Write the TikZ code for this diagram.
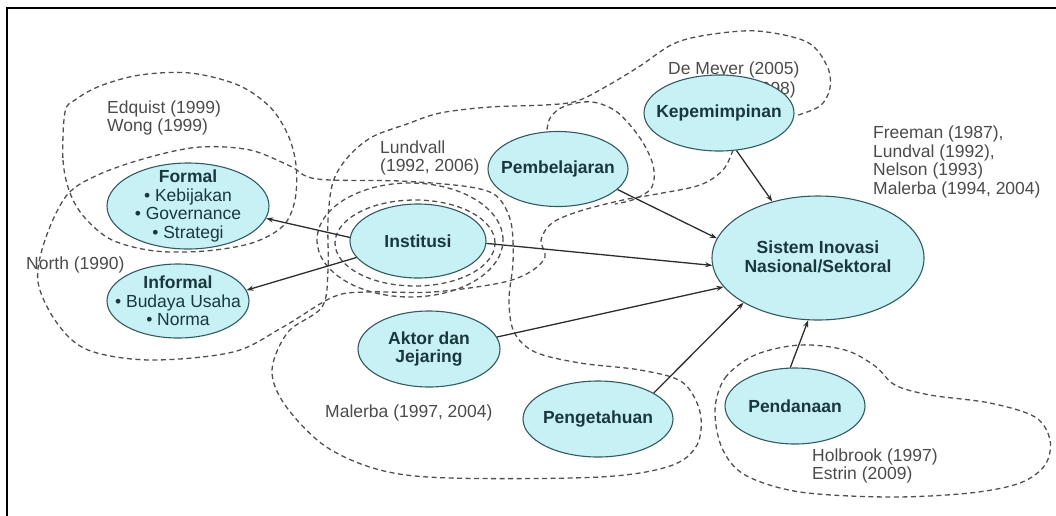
\documentclass[tikz,border=0pt]{standalone}
\usepackage{fontspec}
\setmainfont{Liberation Sans}
\usetikzlibrary{shapes.geometric,arrows.meta}
\definecolor{nodefill}{RGB}{200,241,246}
\definecolor{nodeedge}{RGB}{50,90,95}
\definecolor{nodetext}{RGB}{25,55,60}
\definecolor{dashcol}{RGB}{80,80,80}
\definecolor{labcol}{RGB}{75,75,75}
\definecolor{arrcol}{RGB}{45,45,45}
\begin{document}
\begin{tikzpicture}[x=1pt,y=-1pt,
  concept/.style={ellipse, draw=nodeedge, fill=nodefill, line width=1.1pt, inner sep=0pt},
  ctext/.style={text=nodetext, font=\fontsize{17.5}{18.5}\selectfont\bfseries, align=center, inner sep=0pt},
  refnote/.style={text=labcol, font=\fontsize{17.5}{18.5}\selectfont, align=left, inner sep=0pt},
  zone/.style={draw=dashcol, line width=1.3pt, dash pattern=on 5pt off 3.5pt},
  link/.style={draw=arrcol, line width=1.3pt, -{Stealth[length=7pt,width=5pt]}}]

\useasboundingbox (0,0) rectangle (1056,515);
\draw[line width=2.2pt] (7,530) -- (7,8) -- (1070,8);

% dashed zones
\draw[zone] plot[smooth cycle, tension=0.55] coordinates {(65,112) (63,160) (70,193) (85,218) (112,240) (155,251) (205,251) (252,243) (283,226) (295,200) (296,165) (288,135) (270,107) (238,85) (190,73) (140,75) (100,86) (75,100)};

\draw[zone] plot[smooth, tension=0.55] coordinates {(733,150) (723,170) (700,185) (657,194) (623,200) (580,211) (552,223) (541,240) (545,257) (530,272) (500,283) (433,292) (367,292) (333,297) (283,327) (233,352) (150,360) (88,350) (57,323) (38,282) (45,240) (67,195) (100,174) (150,157) (200,147) (250,150) (290,166) (317,179) (400,181) (463,186) (492,193) (505,207) (512,228) (513,263) (509,300) (514,332) (535,352) (580,363) (640,370) (682,382) (700,412) (697,445) (670,466) (600,477) (450,478) (380,470) (325,446) (285,405) (272,370) (288,332) (322,307) (328,270) (328,220) (333,182) (348,157) (372,137) (407,124) (440,113) (490,107) (545,105) (577,101) (607,86) (640,66) (673,44) (707,35) (757,31) (807,42) (827,66) (830,88) (820,106) (795,116)};

\draw[zone] plot[smooth, tension=0.55] coordinates {(546,138) (550,118) (565,106) (592,102) (617,112) (640,138) (653,165) (652,187) (635,199) (615,204)};

\draw[zone] (410,240) ellipse [x radius=93pt, y radius=57pt];
\draw[zone] (415,243) ellipse [x radius=80pt, y radius=43pt];

\draw[zone] plot[smooth cycle, tension=0.55] coordinates {(715,410) (725,378) (755,355) (800,345) (845,350) (875,366) (895,385) (930,395) (990,403) (1035,417) (1050,440) (1045,465) (1020,483) (970,493) (890,497) (800,492) (745,475) (722,448)};

% reference notes
\node[refnote, anchor=west] (nEdq) at (107,118) {Edquist (1999)\\Wong (1999)};
\node[refnote, anchor=west] (nNorth) at (26,265) {North (1990)};
\node[refnote, anchor=west] (nLund) at (380,158) {Lundvall\\(1992, 2006)};
\node[refnote, anchor=west] (nMeyer) at (668,70) {De Meyer (2005)};
\node[refnote, anchor=east] (nMeyerB) at (796,90) {(1998)};
\node[refnote, anchor=west] (nFree) at (873,162) {Freeman (1987),\\Lundval (1992),\\Nelson (1993)\\Malerba (1994, 2004)};
\node[refnote, anchor=west] (nMal) at (325,413) {Malerba (1997, 2004)};
\node[refnote, anchor=west] (nHol) at (812,466) {Holbrook (1997)\\Estrin (2009)};

% concept nodes
\node[concept, minimum width=162pt, minimum height=86pt] (formal) at (188,206) {};
\node[ctext] (formalT) at (formal.center) {Formal\\{\mdseries • Kebijakan}\\{\mdseries • Governance}\\{\mdseries • Strategi}};
\node[concept, minimum width=142pt, minimum height=74pt] (informal) at (178,301) {};
\node[ctext] (informalT) at (informal.center) {Informal\\{\mdseries • Budaya Usaha}\\{\mdseries • Norma}};
\node[concept, minimum width=136pt, minimum height=74pt] (inst) at (418,241) {};
\node[ctext] (instT) at (inst.center) {Institusi};
\node[concept, minimum width=140pt, minimum height=75pt] (pem) at (558,169) {};
\node[ctext] (pemT) at (pem.center) {Pembelajaran};
\node[concept, minimum width=150pt, minimum height=76pt] (kep) at (719,113) {};
\node[ctext] (kepT) at (kep.center) {Kepemimpinan};
\node[concept, minimum width=212pt, minimum height=124pt] (sis) at (818,258) {};
\node[ctext] (sisT) at (818,257) {Sistem Inovasi\\Nasional/Sektoral};
\node[concept, minimum width=142pt, minimum height=76pt] (aktor) at (429,349) {};
\node[ctext] (aktorT) at (aktor.center) {Aktor dan\\Jejaring};
\node[concept, minimum width=150pt, minimum height=76pt] (peng) at (598,419) {};
\node[ctext] (pengT) at (peng.center) {Pengetahuan};
\node[concept, minimum width=140pt, minimum height=76pt] (pend) at (795,406) {};
\node[ctext] (pendT) at (pend.center) {Pendanaan};

% connectors
\draw[link] (inst.177) -- (formal.-9);
\draw[link] (inst.195) -- (informal.9);
\draw[link] (inst.-2) -- (sis.184);
\draw[link] (pem.-19) -- (sis.169);
\draw[link] (aktor.10) -- (sis.197);
\draw[link] (peng.25) -- (sis.211);
\draw[link] (kep.-65) -- (sis.129);
\draw[link] (pend.97) -- (sis.261);
\end{tikzpicture}
\end{document}
